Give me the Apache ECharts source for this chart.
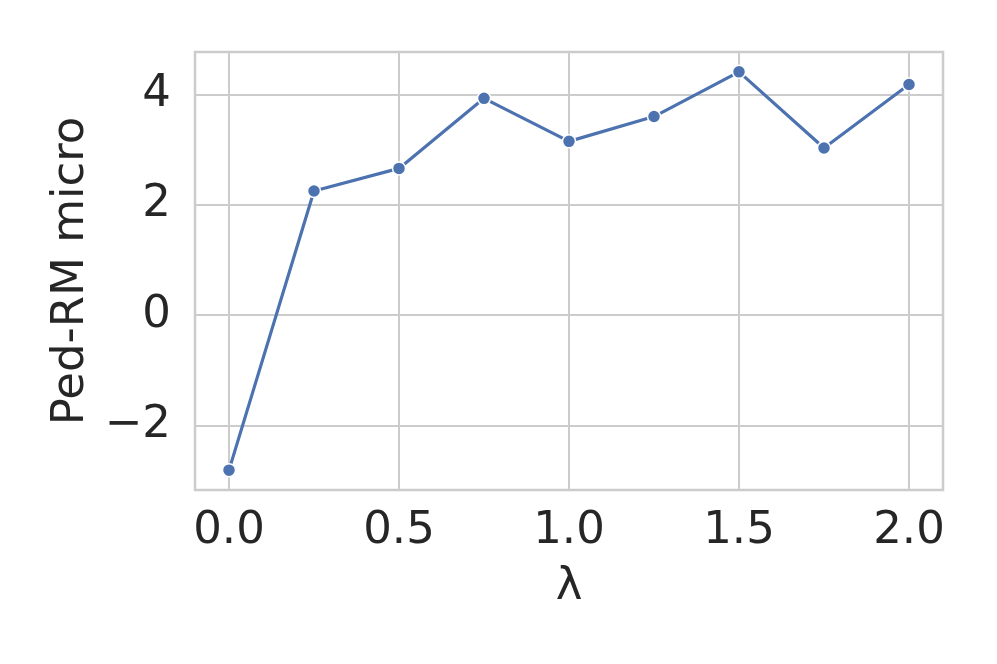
<!DOCTYPE html>
<html>
<head>
<meta charset="utf-8">
<script src="https://cdn.jsdelivr.net/npm/echarts@6/dist/echarts.min.js"></script>
<style>
  html, body { margin: 0; padding: 0; background: #fff; }
  #chart { width: 997px; height: 664px; }
</style>
</head>
<body>
<div id="chart"></div>
<script>
// lambda values and the measured Ped-RM micro score
var lambdas = [0.0, 0.25, 0.5, 0.75, 1.0, 1.25, 1.5, 1.75, 2.0];
var pedRmMicro = [-2.81, 2.25, 2.66, 3.93, 3.15, 3.60, 4.41, 3.03, 4.18];
var xTicks = [0, 0.5, 1.0, 1.5, 2.0];
var yTicks = [-2, 0, 2, 4];

var textColor = "#262626";
var gridColor = "#cccccc";
var lineColor = "#4c72b0";
var font = "DejaVu Sans";

var chart = echarts.init(document.getElementById("chart"));

var points = [];
for (var i = 0; i < lambdas.length; i++) {
  points.push([lambdas[i], pedRmMicro[i]]);
}

var option = {
  backgroundColor: "#ffffff",
  animation: false,
  grid: {
    left: 195,
    right: 54,
    top: 52,
    bottom: 174,
    show: true,
    borderColor: gridColor,
    borderWidth: 2.5,
    backgroundColor: "transparent"
  },
  xAxis: {
    type: "value",
    min: -0.1,
    max: 2.1,
    name: "λ",
    nameLocation: "middle",
    nameGap: 75,
    nameTextStyle: { color: textColor, fontSize: 45, fontFamily: font },
    axisLine: { show: false },
    axisTick: { show: false, customValues: xTicks },
    splitLine: { show: true, lineStyle: { color: gridColor, width: 2 } },
    axisLabel: {
      customValues: xTicks,
      color: textColor,
      fontSize: 45,
      fontFamily: font,
      margin: 19,
      formatter: function (v) { return v.toFixed(1); }
    }
  },
  yAxis: {
    type: "value",
    min: -3.17,
    max: 4.77,
    name: "Ped-RM micro",
    nameLocation: "middle",
    nameGap: 100,
    nameRotate: 90,
    nameTextStyle: { color: textColor, fontSize: 45, fontFamily: font },
    axisLine: { show: false },
    axisTick: { show: false, customValues: yTicks },
    splitLine: { show: true, lineStyle: { color: gridColor, width: 2 } },
    axisLabel: {
      customValues: yTicks,
      color: textColor,
      fontSize: 45,
      fontFamily: font,
      margin: 24,
      formatter: function (v) { return v < 0 ? "\u2212" + (-v) : String(v); }
    }
  },
  series: [
    {
      type: "line",
      data: points,
      symbol: "circle",
      symbolSize: 13,
      showSymbol: true,
      lineStyle: { color: lineColor, width: 3.2 },
      itemStyle: { color: lineColor, borderColor: "#ffffff", borderWidth: 1.5 }
    }
  ]
};

chart.setOption(option);
</script>
</body>
</html>
